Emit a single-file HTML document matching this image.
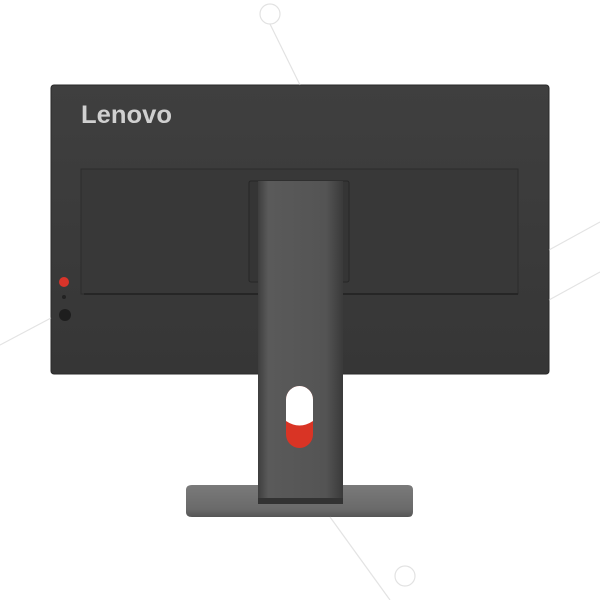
<!DOCTYPE html>
<html><head><style>
html,body{margin:0;padding:0;background:#fff;width:600px;height:600px;overflow:hidden}
</style></head><body>
<svg width="600" height="600" viewBox="0 0 600 600" xmlns="http://www.w3.org/2000/svg">
<defs>
<linearGradient id="col" x1="0" x2="1" y1="0" y2="0">
<stop offset="0" stop-color="#3e3e3e"/><stop offset="0.12" stop-color="#5a5a5a"/><stop offset="0.8" stop-color="#545454"/><stop offset="1" stop-color="#3a3a3a"/>
</linearGradient>
<linearGradient id="base" x1="0" x2="0" y1="0" y2="1">
<stop offset="0" stop-color="#7a7a7a"/><stop offset="0.75" stop-color="#6a6a6a"/><stop offset="1" stop-color="#555"/>
</linearGradient>
<linearGradient id="mon" x1="0" x2="0" y1="0" y2="1">
<stop offset="0" stop-color="#3f3f3f"/><stop offset="1" stop-color="#363636"/>
</linearGradient>
</defs>
<rect x="51" y="85" width="498" height="289" rx="3" fill="url(#mon)" stroke="#2a2a2a"/>
<text x="81" y="123" font-family="Liberation Sans, sans-serif" font-size="25" font-weight="bold" textLength="91" lengthAdjust="spacingAndGlyphs" fill="#d0d0d0">Lenovo</text>
<rect x="81" y="169" width="437" height="125" fill="#383838" stroke="#2c2c2c"/>
<line x1="84" y1="294" x2="518" y2="294" stroke="#262626" stroke-width="2"/>
<rect x="249" y="181" width="100" height="101" rx="2" fill="#353535" stroke="#262626"/>
<circle cx="64" cy="282" r="5" fill="#d8342a"/>
<circle cx="64" cy="297" r="2" fill="#222"/>
<circle cx="65" cy="315" r="6" fill="#1e1e1e"/>
<path d="M186 490 Q186 485 192 485 L408 485 Q413 485 413 490 L413 512 Q413 517 408 517 L192 517 Q186 517 186 512Z" fill="url(#base)"/>
<rect x="258" y="181" width="85" height="323" fill="url(#col)"/>
<rect x="258" y="498" width="85" height="6" fill="#333"/>
<rect x="286" y="386" width="27" height="62" rx="13.5" fill="#d93425"/>
<path d="M286 421 L286 399.5 A13.5 13.5 0 0 1 313 399.5 L313 421 Q299.5 430 286 421Z" fill="#fff"/>
<g fill="none" stroke="#d0d0d0" stroke-width="1.2" opacity="0.6">
<circle cx="270" cy="14" r="10"/>
<circle cx="405" cy="576" r="10"/>
<line x1="270" y1="24" x2="300" y2="85"/>
<line x1="0" y1="345" x2="51" y2="318"/>
<line x1="549" y1="250" x2="600" y2="222"/>
<line x1="549" y1="300" x2="600" y2="272"/>
<line x1="330" y1="517" x2="390" y2="600"/>
</g>
</svg>
</body></html>
